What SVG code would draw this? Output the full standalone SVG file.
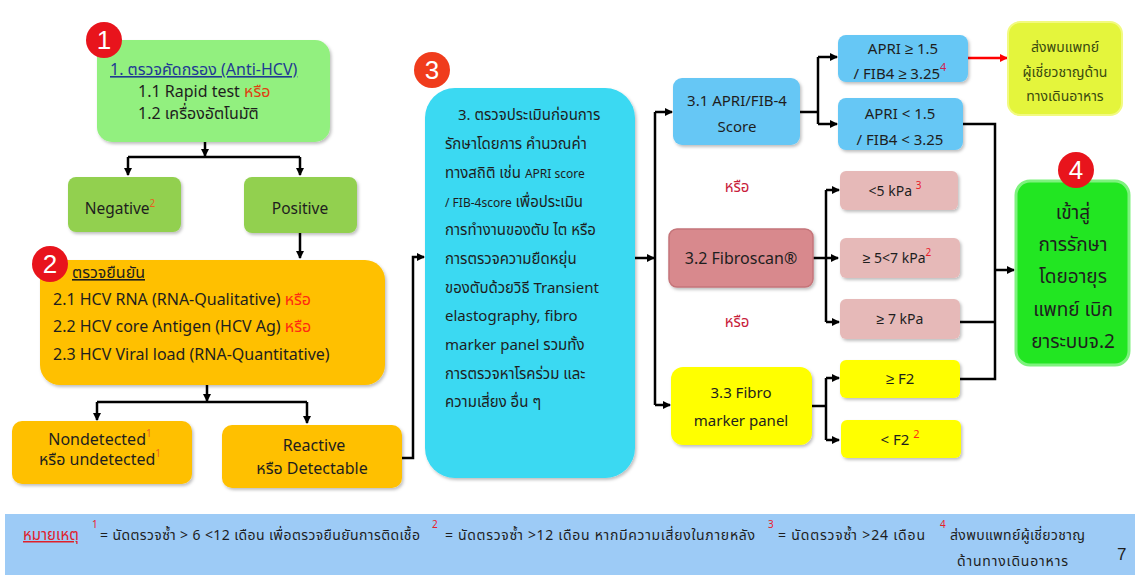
<svg xmlns="http://www.w3.org/2000/svg" width="1135" height="575" viewBox="0 0 1135 575">
<defs>
<marker id="ah" markerWidth="8" markerHeight="8" refX="7" refY="4" orient="auto" markerUnits="userSpaceOnUse">
<path d="M0,0 L8,4 L0,8 z" fill="#000"/>
</marker>
<marker id="ahr" markerWidth="8" markerHeight="8" refX="7" refY="4" orient="auto" markerUnits="userSpaceOnUse">
<path d="M0,0 L8,4 L0,8 z" fill="#ff0000"/>
</marker>
<filter id="sh" x="-10%" y="-10%" width="130%" height="130%">
<feDropShadow dx="1.5" dy="2" stdDeviation="1.5" flood-color="#000" flood-opacity="0.25"/>
</filter>
</defs>
<style>
text{font-family:"Noto Sans","Noto Sans Thai","Liberation Sans",sans-serif;fill:#1e1e1e;}
.c{text-anchor:middle;}
.t16{font-size:16px;}
.t15{font-size:15px;}
.t14{font-size:14px;}
.sup{font-size:10px;fill:#e8202a;}
.red{fill:#ff2a10;}
.dred{fill:#c8203a;}
.badge{fill:#e8141c;}
.bt{font-family:"Liberation Sans",Arial,sans-serif;font-size:26px;fill:#fff;text-anchor:middle;}
.ln{fill:none;stroke:#000;stroke-width:2.5;}
.box{filter:url(#sh);}
</style>

<rect x="0" y="0" width="1135" height="575" fill="#fff"/>

<g id="connectors">
<path class="ln" d="M205,142 V156" marker-end="url(#ah)"/>
<path class="ln" d="M128,157 H300"/>
<path class="ln" d="M128,157 V175" marker-end="url(#ah)"/>
<path class="ln" d="M300,157 V175" marker-end="url(#ah)"/>
<path class="ln" d="M300,233 V258" marker-end="url(#ah)"/>
<path class="ln" d="M207,385 V401" marker-end="url(#ah)"/>
<path class="ln" d="M97,402 H307"/>
<path class="ln" d="M97,402 V420" marker-end="url(#ah)"/>
<path class="ln" d="M307,402 V423" marker-end="url(#ah)"/>
<path class="ln" d="M402,458 H413 V257 H424" marker-end="url(#ah)"/>
<path class="ln" d="M635,258 H654" marker-end="url(#ah)"/>
<path class="ln" d="M655,112 V405"/>
<path class="ln" d="M655,112 H672" marker-end="url(#ah)"/>
<path class="ln" d="M655,405 H670" marker-end="url(#ah)"/>
<path class="ln" d="M800,112 H818"/>
<path class="ln" d="M818,57 V124"/>
<path class="ln" d="M818,57 H837" marker-end="url(#ah)"/>
<path class="ln" d="M818,124 H837" marker-end="url(#ah)"/>
<path fill="none" stroke="#ff0000" stroke-width="2.5" d="M968,58 H1007" marker-end="url(#ahr)"/>
<path class="ln" d="M813,258 H838" marker-end="url(#ah)"/>
<path class="ln" d="M826,190 V322"/>
<path class="ln" d="M826,190 H839" marker-end="url(#ah)"/>
<path class="ln" d="M826,322 H839" marker-end="url(#ah)"/>
<path class="ln" d="M812,406 H826"/>
<path class="ln" d="M826,378 V440"/>
<path class="ln" d="M826,378 H839" marker-end="url(#ah)"/>
<path class="ln" d="M826,440 H839" marker-end="url(#ah)"/>
<path class="ln" d="M963,124 H995 V379 H960"/>
<path class="ln" d="M960,322 H995"/>
<path class="ln" d="M995,270 H1014" marker-end="url(#ah)"/>
</g>

<g id="n1">
<rect class="box" x="97" y="40" width="233" height="102" rx="15" fill="#92f07f"/>
<circle class="badge" cx="104" cy="40" r="18"/>
<text class="bt" x="104" y="49">1</text>
<text x="110" y="75" class="t16" style="fill:#1f3a93;text-decoration:underline">1. ตรวจคัดกรอง (Anti-HCV)</text>
<text x="138" y="97" class="t16">1.1 Rapid test <tspan style="fill:#e04010">หรือ</tspan></text>
<text x="138" y="119" class="t16">1.2 เครื่องอัตโนมัติ</text>
</g>

<g id="neg">
<rect class="box" x="68" y="177" width="113" height="55" rx="8" fill="#92d050"/>
<text x="120" y="214" class="c" style="font-size:15.5px">Negative<tspan class="sup" dy="-7" style="fill:#e86020">2</tspan></text>
</g>
<g id="pos">
<rect class="box" x="244" y="177" width="113" height="56" rx="8" fill="#92d050"/>
<text x="300" y="214" class="c" style="font-size:15.5px">Positive</text>
</g>

<g id="n2">
<rect class="box" x="40" y="260" width="345" height="125" rx="20" fill="#ffc000"/>
<circle class="badge" cx="50" cy="264" r="18"/>
<text class="bt" x="50" y="273">2</text>
<text x="72" y="278" class="t16" style="text-decoration:underline">ตรวจยืนยัน</text>
<text x="53" y="305" class="t16">2.1 HCV RNA (RNA-Qualitative) <tspan class="red">หรือ</tspan></text>
<text x="53" y="332" class="t16">2.2 HCV core Antigen (HCV Ag) <tspan class="red">หรือ</tspan></text>
<text x="53" y="360" class="t16">2.3 HCV Viral load (RNA-Quantitative)</text>
</g>

<g id="nondet">
<rect class="box" x="12" y="421" width="180" height="63" rx="10" fill="#ffc000"/>
<text x="100" y="445" class="c t16">Nondetected<tspan class="sup" dy="-8" style="fill:#e86020">1</tspan></text>
<text x="100" y="465" class="c t16">หรือ undetected<tspan class="sup" dy="-8" style="fill:#e86020">1</tspan></text>
</g>
<g id="reactive">
<rect class="box" x="222" y="425" width="180" height="63" rx="10" fill="#ffc000"/>
<text x="314" y="451" class="c t16">Reactive</text>
<text x="312" y="474" class="c t16">หรือ  Detectable</text>
</g>

<g id="n3">
<rect class="box" x="425" y="88" width="210" height="390" rx="30" fill="#3ad9f2"/>
<circle cx="432" cy="70" r="18" fill="#f03c1c"/>
<text class="bt" x="432" y="79">3</text>
<text x="458" y="120" class="t15">3. ตรวจประเมินก่อนการ</text>
<text x="445" y="149" class="t15">รักษาโดยการ คำนวณค่า</text>
<text x="445" y="178" class="t15">ทางสถิติ เช่น <tspan style="font-size:12px">APRI score</tspan></text>
<text x="445" y="207" class="t15"><tspan style="font-size:12px">/ FIB-4score</tspan> เพื่อประเมิน</text>
<text x="445" y="235" class="t15">การทำงานของตับ ไต หรือ</text>
<text x="445" y="264" class="t15">การตรวจความยืดหยุ่น</text>
<text x="445" y="293" class="t15">ของตับด้วยวิธี Transient</text>
<text x="445" y="321" class="t15">elastography, fibro</text>
<text x="445" y="350" class="t15">marker panel  รวมทั้ง</text>
<text x="445" y="379" class="t15">การตรวจหาโรคร่วม และ</text>
<text x="445" y="407" class="t15">ความเสี่ยง อื่น ๆ</text>
</g>

<g id="n31">
<rect class="box" x="673" y="78" width="127" height="67" rx="9" fill="#66c7f5"/>
<text x="737" y="106" class="c t15">3.1 APRI/FIB-4</text>
<text x="737" y="132" class="c t15">Score</text>
</g>
<g id="apri-hi">
<rect class="box" x="838" y="35" width="130" height="47" rx="8" fill="#66c7f5"/>
<text x="903" y="54" class="c t15">APRI ≥ 1.5</text>
<text x="900" y="79" class="c t15">/ FIB4 ≥ 3.25<tspan class="sup" dy="-8" style="fill:#d02050;font-size:11px">4</tspan></text>
</g>
<g id="apri-lo">
<rect class="box" x="838" y="98" width="125" height="52" rx="8" fill="#66c7f5"/>
<text x="900" y="119" class="c t15">APRI &lt; 1.5</text>
<text x="900" y="145" class="c t15">/ FIB4 &lt; 3.25</text>
</g>

<g id="refer">
<rect x="1008" y="22" width="114" height="93" rx="12" fill="#e4f53c" stroke="#f2fa80" stroke-width="2"/>
<text x="1065" y="52" class="c t14" style="fill:#3a4a10">ส่งพบแพทย์</text>
<text x="1065" y="77" class="c t14" style="fill:#3a4a10">ผู้เชี่ยวชาญด้าน</text>
<text x="1065" y="101" class="c t14" style="fill:#3a4a10">ทางเดินอาหาร</text>
</g>

<text x="737" y="192" class="c t15 dred">หรือ</text>
<text x="737" y="327" class="c t15 dred">หรือ</text>

<g id="n32">
<rect class="box" x="669" y="229" width="144" height="58" rx="8" fill="#d8898d" stroke="#c47479" stroke-width="1.5"/>
<text x="741" y="264" class="c" style="font-size:16px">3.2 Fibroscan®</text>
</g>
<g id="kpa1">
<rect class="box" x="840" y="171" width="118" height="39" rx="6" fill="#e6b9b8"/>
<text x="895" y="196" class="c t14">&lt;5 kPa <tspan class="sup" dy="-7">3</tspan></text>
</g>
<g id="kpa2">
<rect class="box" x="840" y="238" width="120" height="40" rx="6" fill="#e6b9b8"/>
<text x="897" y="263" class="c t14">≥ 5&lt;7 kPa<tspan class="sup" dy="-7">2</tspan></text>
</g>
<g id="kpa3">
<rect class="box" x="840" y="299" width="120" height="40" rx="6" fill="#e6b9b8"/>
<text x="900" y="324" class="c t14">≥ 7 kPa</text>
</g>

<g id="n33">
<rect class="box" x="671" y="367" width="141" height="78" rx="12" fill="#ffff00"/>
<text x="741" y="398" class="c t15">3.3 Fibro</text>
<text x="741" y="426" class="c t15">marker panel</text>
</g>
<g id="f2hi">
<rect class="box" x="840" y="360" width="120" height="38" rx="6" fill="#ffff00"/>
<text x="900" y="384" class="c t15">≥ F2</text>
</g>
<g id="f2lo">
<rect class="box" x="841" y="420" width="120" height="38" rx="6" fill="#ffff00"/>
<text x="900" y="445" class="c t15">&lt; F2 <tspan class="sup" dy="-7" style="font-size:11px;fill:#ff3010">2</tspan></text>
</g>

<g id="n4">
<rect x="1016" y="181" width="113" height="184" rx="14" fill="#22e622" stroke="#7ef27e" stroke-width="3"/>
<circle class="badge" cx="1076" cy="170" r="18"/>
<text class="bt" x="1076" y="179">4</text>
<text x="1073" y="219" class="c" style="font-size:19px">เข้าสู่</text>
<text x="1073" y="251" class="c" style="font-size:19px">การรักษา</text>
<text x="1073" y="283" class="c" style="font-size:19px">โดยอายุร</text>
<text x="1073" y="316" class="c" style="font-size:19px">แพทย์ เบิก</text>
<text x="1073" y="348" class="c" style="font-size:19px">ยาระบบจ.2</text>
</g>

<g id="footer">
<rect x="5" y="514" width="1130" height="61" fill="#9dcbf6"/>
<text x="23" y="540" style="font-size:15px;fill:#e0202a;text-decoration:underline">หมายเหตุ</text>
<text x="92" y="528" class="sup">1</text>
<text x="100" y="540" class="t14" textLength="320" lengthAdjust="spacing">= นัดตรวจซ้ำ &gt; 6 &lt;12 เดือน เพื่อตรวจยืนยันการติดเชื้อ</text>
<text x="432" y="528" class="sup">2</text>
<text x="445" y="540" class="t14" textLength="310" lengthAdjust="spacing">= นัดตรวจซ้ำ &gt;12 เดือน หากมีความเสี่ยงในภายหลัง</text>
<text x="768" y="528" class="sup">3</text>
<text x="778" y="540" class="t14" textLength="147" lengthAdjust="spacing">= นัดตรวจซ้ำ &gt;24 เดือน</text>
<text x="940" y="528" class="sup">4</text>
<text x="950" y="540" class="t14" textLength="135" lengthAdjust="spacing">ส่งพบแพทย์ผู้เชี่ยวชาญ</text>
<text x="957" y="566" class="t14" textLength="111" lengthAdjust="spacing">ด้านทางเดินอาหาร</text>
<text x="1117" y="560" style="font-size:17px;font-family:'Liberation Sans',sans-serif">7</text>
</g>
</svg>
